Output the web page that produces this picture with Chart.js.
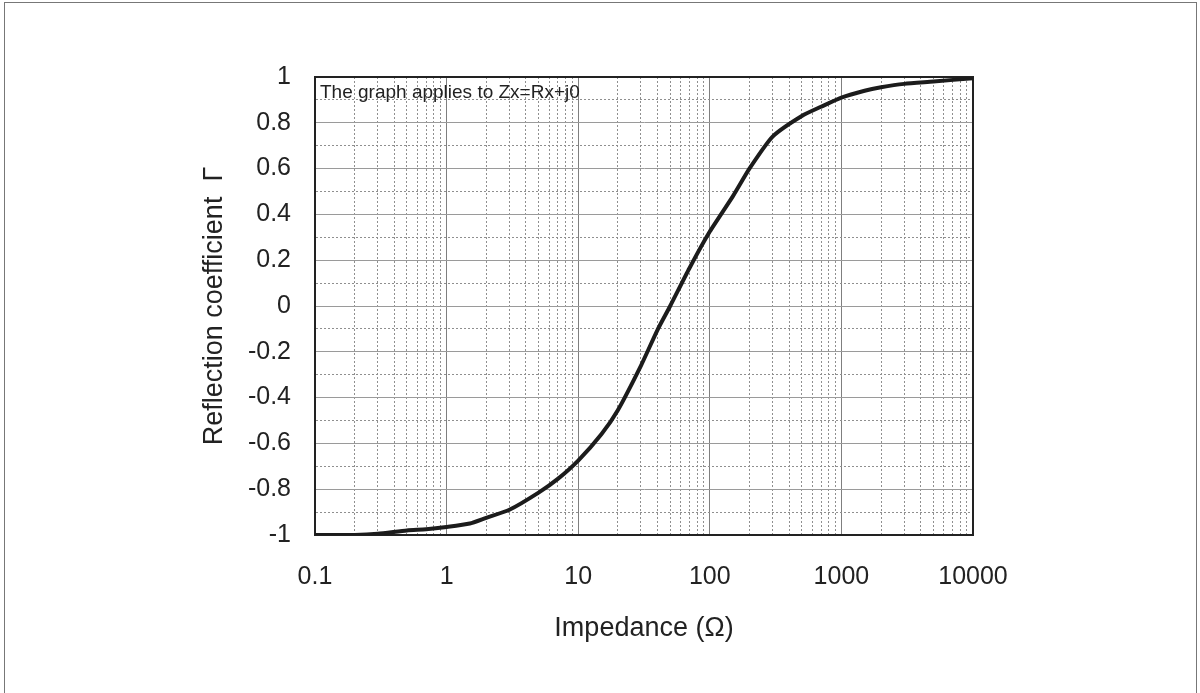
<!DOCTYPE html>
<html lang="en">
  <head>
    <title>Reflection coefficient</title>
    <meta charset="utf-8">
    <style>
      body { margin: 0; background: #fff; }
      #frame { position: absolute; left: 4px; top: 2px; width: 1191px; height: 700px; border: 1px solid #777; }
      #chart { position: absolute; left: 0; top: 0; }
    </style>
  </head>
  <body>
    <div id="frame"></div>
    <canvas id="chart" width="1200" height="693"></canvas>

    <script src="https://cdn.jsdelivr.net/npm/chart.js@4.4.0/dist/chart.umd.min.js"></script>
    <script>
    // values
    const impedance = [0.1, 0.2, 0.3, 0.5, 0.7, 1, 1.5, 2, 3, 5, 7, 10, 15, 20, 30, 40, 50, 70, 100, 150, 200, 300, 500, 700, 1000, 1500, 2000, 3000, 5000, 10000]
    const gamma = [-1.0, -1.0, -0.995, -0.98, -0.975, -0.965, -0.95, -0.925, -0.89, -0.815, -0.755, -0.675, -0.56, -0.455, -0.26, -0.105, 0, 0.165, 0.325, 0.48, 0.6, 0.74, 0.83, 0.87, 0.91, 0.94, 0.955, 0.97, 0.98, 0.995]

    const xDecades = [0.1, 1, 10, 100, 1000, 10000]
    const xTickLabels = ['0.1', '1', '10', '100', '1000', '10000']
    const yTickLabels = ['-1', '-0.8', '-0.6', '-0.4', '-0.2', '0', '0.2', '0.4', '0.6', '0.8', '1']
    const note = 'The graph applies to Zx=Rx+j0'

    const font = "'Liberation Sans', Arial, sans-serif"
    const ink = '#222'

    // all 1..9 multiples for the log grid
    let xTicks = []
    for (let d = 0; d < xDecades.length; d++) {
      for (let m = 1; m < 10; m++) {
        let v = +(xDecades[d] * m).toPrecision(3)
        if (v <= 10000) xTicks.push(v)
        if (d === xDecades.length - 1) break
      }
    }
    let yTicks = []
    for (let i = 0; i <= 20; i++) yTicks.push(+(-1 + i * 0.1).toFixed(1))

    const isDecade = v => xDecades.some(d => Math.abs(d - v) < d * 1e-6)
    const isMajorY = v => Math.abs(Math.round(v * 5) - v * 5) < 1e-6

    // note in the top left corner + dark frame round the plot
    const notePlugin = {
      id: 'note',
      beforeDatasetsDraw(chart) {
        const a = chart.chartArea
        const ctx = chart.ctx
        ctx.save()
        ctx.strokeStyle = '#222'
        ctx.lineWidth = 2
        ctx.strokeRect(a.left, a.top, a.right - a.left, a.bottom - a.top)
        ctx.restore()
      },
      afterDatasetsDraw(chart) {
        const a = chart.chartArea
        const ctx = chart.ctx
        ctx.save()
        ctx.font = '19px ' + font
        ctx.fillStyle = ink
        ctx.textBaseline = 'middle'
        ctx.fillText(note, a.left + 5, a.top + 16)
        ctx.restore()
      }
    }

    new Chart(document.getElementById('chart'), {
      type: 'line',
      data: {
        datasets: [{
          data: impedance.map((r, i) => ({ x: r, y: gamma[i] })),
          borderColor: '#1c1c1c',
          borderWidth: 4,
          pointRadius: 0,
          tension: 0.2,
          fill: false
        }]
      },
      plugins: [notePlugin],
      options: {
        responsive: false,
        animation: false,
        layout: { padding: { left: 198, right: 227, top: 77, bottom: 48 } },
        plugins: { legend: { display: false }, tooltip: { enabled: false } },
        scales: {
          x: {
            type: 'logarithmic',
            min: 0.1,
            max: 10000,
            afterBuildTicks: axis => { axis.ticks = xTicks.map(v => ({ value: v })) },
            afterFit: axis => { axis.height = 110 },
            ticks: {
              autoSkip: false,
              maxRotation: 0,
              padding: 27,
              color: ink,
              font: { family: font, size: 25 },
              callback: v => {
                let i = xDecades.findIndex(d => Math.abs(d - v) < d * 1e-6)
                return i >= 0 ? xTickLabels[i] : ''
              }
            },
            grid: {
              drawTicks: false,
              color: c => isDecade(c.tick.value) ? '#7f7f7f' : '#8f8f8f',
              lineWidth: 1
            },
            border: {
              display: true,
              color: '#222',
              width: 2,
              dash: c => c.tick && isDecade(c.tick.value) ? [] : [2, 2]
            },
            title: {
              display: true,
              text: 'Impedance (\u03A9)',
              color: ink,
              font: { family: font, size: 27 },
              padding: 0
            }
          },
          y: {
            min: -1,
            max: 1,
            afterBuildTicks: axis => { axis.ticks = yTicks.map(v => ({ value: v })) },
            afterFit: axis => { axis.width = 117 },
            ticks: {
              autoSkip: false,
              padding: 24,
              color: ink,
              font: { family: font, size: 25 },
              callback: v => isMajorY(v) ? yTickLabels[Math.round((v + 1) * 5)] : ''
            },
            grid: {
              drawTicks: false,
              color: c => isMajorY(c.tick.value) ? '#9a9a9a' : '#8f8f8f',
              lineWidth: 1
            },
            border: {
              display: true,
              color: '#222',
              width: 2,
              dash: c => c.tick && isMajorY(c.tick.value) ? [] : [2, 2]
            },
            title: {
              display: true,
              text: 'Reflection coefficient  \u0393',
              color: ink,
              font: { family: font, size: 27 },
              padding: 0
            }
          }
        }
      }
    })
    </script>
  </body>
</html>
